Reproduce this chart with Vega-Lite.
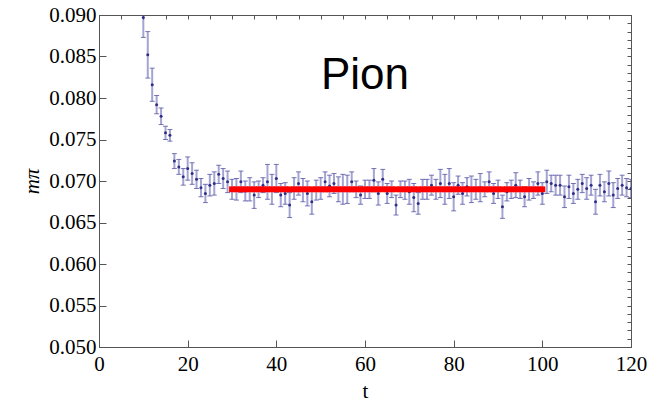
{
  "$schema": "https://vega.github.io/schema/vega-lite/v6.json",
  "width": 532,
  "height": 332,
  "autosize": {"type": "none"},
  "padding": {"left": 99, "top": 15, "right": 31, "bottom": 57},
  "background": "white",
  "config": {
    "view": {"stroke": "#555555", "strokeWidth": 1},
    "axis": {"grid": false, "labelFlush": false, "labelOverlap": false, "domainColor": "#555555", "tickColor": "#555555", "labelFont": "Liberation Serif", "labelFontSize": 21, "labelColor": "#000000", "titleFont": "Liberation Serif", "titleFontSize": 21, "titleColor": "#000000", "titleFontWeight": "normal"}
  },
  "data": {"values": [
    {"t":10,"m":0.0897,"e":0.0024},{"t":11,"m":0.0852,"e":0.0028},{"t":12,"m":0.0816,"e":0.0020},{"t":13,"m":0.0792,"e":0.0011},{"t":14,"m":0.0778,"e":0.0010},
    {"t":15,"m":0.0758,"e":0.0008},{"t":16,"m":0.0755,"e":0.0007},{"t":17,"m":0.0724,"e":0.0009},{"t":18,"m":0.0717,"e":0.0009},{"t":19,"m":0.0705,"e":0.0010},
    {"t":20,"m":0.0715,"e":0.0014},{"t":21,"m":0.0709,"e":0.0013},{"t":22,"m":0.0702,"e":0.0011},{"t":23,"m":0.0692,"e":0.0011},{"t":24,"m":0.0685,"e":0.0011},
    {"t":25,"m":0.0695,"e":0.0013},{"t":26,"m":0.0697,"e":0.0014},{"t":27,"m":0.0708,"e":0.0011},{"t":28,"m":0.0703,"e":0.0012},{"t":29,"m":0.0699,"e":0.0013},
    {"t":30,"m":0.0690,"e":0.0012},{"t":31,"m":0.0690,"e":0.0013},{"t":32,"m":0.0699,"e":0.0013},{"t":33,"m":0.0688,"e":0.0012},{"t":34,"m":0.0690,"e":0.0014},
    {"t":35,"m":0.0683,"e":0.0016},{"t":36,"m":0.0690,"e":0.0010},{"t":37,"m":0.0695,"e":0.0009},{"t":38,"m":0.0699,"e":0.0021},{"t":39,"m":0.0690,"e":0.0018},
    {"t":40,"m":0.0703,"e":0.0017},{"t":41,"m":0.0683,"e":0.0014},{"t":42,"m":0.0685,"e":0.0013},{"t":43,"m":0.0671,"e":0.0015},{"t":44,"m":0.0691,"e":0.0013},
    {"t":45,"m":0.0697,"e":0.0014},{"t":46,"m":0.0689,"e":0.0014},{"t":47,"m":0.0685,"e":0.0015},{"t":48,"m":0.0675,"e":0.0015},{"t":49,"m":0.0689,"e":0.0012},
    {"t":50,"m":0.0691,"e":0.0013},{"t":51,"m":0.0699,"e":0.0012},{"t":52,"m":0.0694,"e":0.0013},{"t":53,"m":0.0697,"e":0.0012},{"t":54,"m":0.0690,"e":0.0015},
    {"t":55,"m":0.0690,"e":0.0018},{"t":56,"m":0.0690,"e":0.0017},{"t":57,"m":0.0699,"e":0.0012},{"t":58,"m":0.0690,"e":0.0010},{"t":59,"m":0.0683,"e":0.0011},
    {"t":60,"m":0.0690,"e":0.0011},{"t":61,"m":0.0690,"e":0.0011},{"t":62,"m":0.0701,"e":0.0014},{"t":63,"m":0.0685,"e":0.0014},{"t":64,"m":0.0702,"e":0.0012},
    {"t":65,"m":0.0685,"e":0.0012},{"t":66,"m":0.0690,"e":0.0010},{"t":67,"m":0.0671,"e":0.0012},{"t":68,"m":0.0690,"e":0.0010},{"t":69,"m":0.0689,"e":0.0011},
    {"t":70,"m":0.0687,"e":0.0015},{"t":71,"m":0.0680,"e":0.0017},{"t":72,"m":0.0673,"e":0.0013},{"t":73,"m":0.0690,"e":0.0012},{"t":74,"m":0.0690,"e":0.0012},
    {"t":75,"m":0.0695,"e":0.0012},{"t":76,"m":0.0690,"e":0.0012},{"t":77,"m":0.0697,"e":0.0017},{"t":78,"m":0.0690,"e":0.0018},{"t":79,"m":0.0697,"e":0.0018},
    {"t":80,"m":0.0681,"e":0.0017},{"t":81,"m":0.0695,"e":0.0011},{"t":82,"m":0.0685,"e":0.0013},{"t":83,"m":0.0693,"e":0.0011},{"t":84,"m":0.0690,"e":0.0016},
    {"t":85,"m":0.0690,"e":0.0012},{"t":86,"m":0.0692,"e":0.0017},{"t":87,"m":0.0690,"e":0.0009},{"t":88,"m":0.0699,"e":0.0012},{"t":89,"m":0.0685,"e":0.0012},
    {"t":90,"m":0.0690,"e":0.0011},{"t":91,"m":0.0669,"e":0.0014},{"t":92,"m":0.0687,"e":0.0011},{"t":93,"m":0.0690,"e":0.0011},{"t":94,"m":0.0695,"e":0.0015},
    {"t":95,"m":0.0690,"e":0.0011},{"t":96,"m":0.0681,"e":0.0012},{"t":97,"m":0.0690,"e":0.0013},{"t":98,"m":0.0689,"e":0.0010},{"t":99,"m":0.0697,"e":0.0014},
    {"t":100,"m":0.0685,"e":0.0013},{"t":101,"m":0.0699,"e":0.0014},{"t":102,"m":0.0697,"e":0.0010},{"t":103,"m":0.0695,"e":0.0012},{"t":104,"m":0.0695,"e":0.0012},
    {"t":105,"m":0.0681,"e":0.0013},{"t":106,"m":0.0693,"e":0.0014},{"t":107,"m":0.0685,"e":0.0012},{"t":108,"m":0.0690,"e":0.0012},{"t":109,"m":0.0697,"e":0.0011},
    {"t":110,"m":0.0691,"e":0.0013},{"t":111,"m":0.0695,"e":0.0012},{"t":112,"m":0.0675,"e":0.0015},{"t":113,"m":0.0695,"e":0.0013},{"t":114,"m":0.0687,"e":0.0012},
    {"t":115,"m":0.0697,"e":0.0015},{"t":116,"m":0.0683,"e":0.0015},{"t":117,"m":0.0691,"e":0.0012},{"t":118,"m":0.0695,"e":0.0012},{"t":119,"m":0.0692,"e":0.0011},
    {"t":120,"m":0.0691,"e":0.0011}
  ]},
  "resolve": {"axis": {"x": "independent", "y": "independent"}},
  "layer": [
    {
      "mark": {"type": "errorbar", "ticks": {"size": 5, "thickness": 1, "color": "#33338f", "opacity": 0.65}, "rule": {"color": "#4a4aa8", "opacity": 0.5, "strokeWidth": 2}, "clip": true},
      "encoding": {
        "x": {"field": "t", "type": "quantitative", "scale": {"domain": [0, 120], "nice": false, "zero": false},
              "axis": {"orient": "bottom", "values": [0, 20, 40, 60, 80, 100, 120], "tickSize": -7, "labelPadding": 13, "labelFont": "Liberation Serif", "labelFontSize": 21, "title": "t", "titleFont": "Liberation Serif", "titleFontSize": 21, "titlePadding": 6}},
        "y": {"field": "m", "type": "quantitative", "scale": {"domain": [0.05, 0.09], "nice": false, "zero": false},
              "axis": {"orient": "left", "values": [0.05, 0.055, 0.06, 0.065, 0.07, 0.075, 0.08, 0.085, 0.09], "format": ".3f", "tickSize": -7, "labelPadding": 10, "labelFont": "Liberation Serif", "labelFontSize": 21, "title": "mπ", "titleFont": "Liberation Serif", "titleFontSize": 21, "titleFontStyle": "italic", "titlePadding": 6}},
        "yError": {"field": "e"}
      }
    },
    {
      "mark": {"type": "circle", "size": 9, "color": "#2e2e8a", "opacity": 1, "clip": true},
      "encoding": {
        "x": {"field": "t", "type": "quantitative", "axis": {"orient": "top", "values": [0,5,10,15,20,25,30,35,40,45,50,55,60,65,70,75,80,85,90,95,100,105,110,115,120], "labels": false, "tickSize": -4, "title": null}},
        "y": {"field": "m", "type": "quantitative", "axis": {"orient": "right", "values": [0.05,0.051,0.052,0.053,0.054,0.055,0.056,0.057,0.058,0.059,0.06,0.061,0.062,0.063,0.064,0.065,0.066,0.067,0.068,0.069,0.07,0.071,0.072,0.073,0.074,0.075,0.076,0.077,0.078,0.079,0.08,0.081,0.082,0.083,0.084,0.085,0.086,0.087,0.088,0.089,0.09], "labels": false, "tickSize": -4, "title": null}}
      }
    },
    {
      "transform": [{"filter": "datum.t >= 30 && datum.t <= 100"}],
      "mark": {"type": "line", "color": "#ff0000", "strokeWidth": 2.5},
      "encoding": {
        "x": {"field": "t", "type": "quantitative", "axis": null},
        "y": {"datum": 0.069, "type": "quantitative", "axis": null}
      }
    },
    {
      "transform": [{"filter": "datum.t >= 30 && datum.t <= 100"}],
      "mark": {"type": "square", "color": "#ff0000", "size": 34, "opacity": 1, "filled": true},
      "encoding": {
        "x": {"field": "t", "type": "quantitative", "axis": null},
        "y": {"datum": 0.069, "type": "quantitative", "axis": null}
      }
    },
    {
      "data": {"values": [{"label": "Pion"}]},
      "mark": {"type": "text", "font": "Liberation Sans", "fontSize": 44, "align": "center", "baseline": "alphabetic", "color": "#000000"},
      "encoding": {
        "x": {"datum": 60, "type": "quantitative", "axis": null},
        "y": {"datum": 0.0811, "type": "quantitative", "axis": null},
        "text": {"field": "label"}
      }
    }
  ]
}
